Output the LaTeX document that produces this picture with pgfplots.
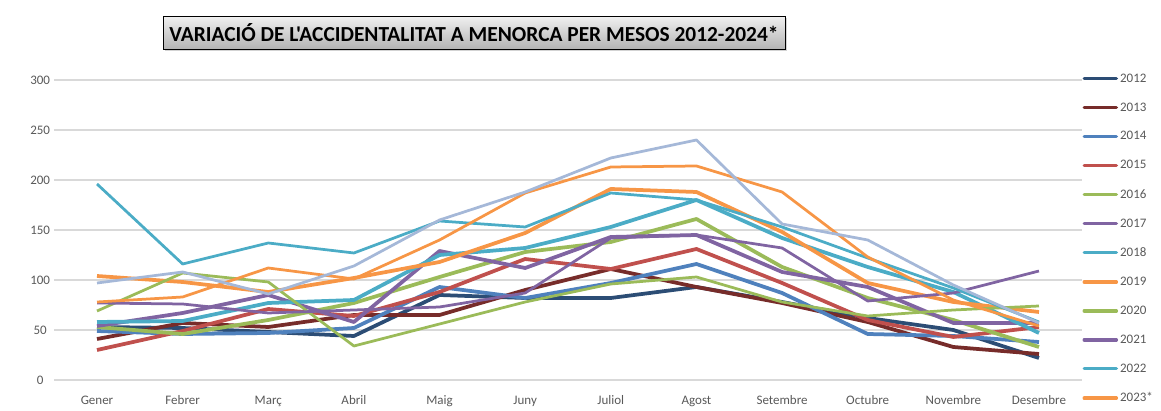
\documentclass[border=0pt]{standalone}
\usepackage{fontspec}
\setmainfont{Carlito}
\newfontfamily\titlefont{Carlito}[Ligatures=TeXOff]
\usepackage{pgfplots}
\pgfplotsset{compat=1.18}
\usetikzlibrary{shadows}
\definecolor{c2012}{HTML}{2C4D75}
\definecolor{c2013}{HTML}{772C2A}
\definecolor{c2014}{HTML}{4F81BD}
\definecolor{c2015}{HTML}{C0504D}
\definecolor{c2016}{HTML}{9BBB59}
\definecolor{c2017}{HTML}{8064A2}
\definecolor{c2018}{HTML}{4BACC6}
\definecolor{c2019}{HTML}{F79646}
\definecolor{c2024}{HTML}{A5B8D8}
\definecolor{gridgray}{HTML}{D9D9D9}
\definecolor{labelgray}{HTML}{595959}
\begin{document}
\begin{tikzpicture}[x=1pt,y=1pt]
\path[use as bounding box] (-54.2,-31) rectangle (1106.8,380);
\begin{axis}[
  at={(0,0)}, anchor=south west,
  scale only axis, width=1027.6pt, height=300pt,
  xmin=-0.5, xmax=11.5, ymin=0, ymax=300,
  xtick={0,...,11},
  xticklabels={Gener,Febrer,Març,Abril,Maig,Juny,Juliol,Agost,Setembre,Octubre,Novembre,Desembre},
  ytick={0,50,...,300},
  ymajorgrids, grid style={line width=1.2pt, color=gridgray},
  axis line style={draw=none},
  major tick length=0pt,
  tick label style={font=\fontsize{13}{15}\selectfont, text=labelgray},
  /pgf/number format/assume math mode=true,
  xticklabel style={anchor=base, yshift=-25pt},
  yticklabel style={anchor=center, xshift=-14pt},
  legend style={at={(1.0005,1.0217)}, anchor=north west, draw=none, fill=none,
    inner sep=0pt, row sep=19pt, column sep=2pt,
    nodes={inner sep=0pt, font=\fontsize{13}{15}\selectfont, text=labelgray}},
  legend cell align=left,
  legend image code/.code={\draw[#1, line width=3.3pt, line cap=round] (1.75pt,0pt) -- (34pt,0pt);},
  every axis plot/.append style={line join=round},
]
\addplot[c2012, line width=3.75pt] coordinates {(0,53)(1,52)(2,48)(3,44)(4,85)(5,82)(6,82)(7,93)(8,78)(9,62)(10,50)(11,22)};
\addlegendentry{2012}
\addplot[c2013, line width=3.75pt] coordinates {(0,41)(1,57)(2,53)(3,65)(4,65)(5,90)(6,111)(7,93)(8,77)(9,58)(10,33)(11,26)};
\addlegendentry{2013}
\addplot[c2014, line width=3.75pt] coordinates {(0,49)(1,46)(2,47)(3,52)(4,93)(5,82)(6,97)(7,116)(8,87)(9,46)(10,44)(11,38)};
\addlegendentry{2014}
\addplot[c2015, line width=3.75pt] coordinates {(0,30)(1,49)(2,71)(3,64)(4,88)(5,121)(6,111)(7,131)(8,97)(9,60)(10,43)(11,53)};
\addlegendentry{2015}
\addplot[c2016, line width=3.75pt] coordinates {(0,53)(1,46)(2,60)(3,77)(4,103)(5,128)(6,138)(7,161)(8,113)(9,82)(10,60)(11,33)};
\addlegendentry{2016}
\addplot[c2017, line width=3.75pt] coordinates {(0,54)(1,67)(2,85)(3,58)(4,129)(5,112)(6,143)(7,145)(8,108)(9,93)(10,57)(11,57)};
\addlegendentry{2017}
\addplot[c2018, line width=3.75pt] coordinates {(0,58)(1,59)(2,77)(3,80)(4,125)(5,132)(6,153)(7,180)(8,142)(9,113)(10,88)(11,47)};
\addlegendentry{2018}
\addplot[c2019, line width=3.75pt] coordinates {(0,104)(1,98)(2,88)(3,102)(4,118)(5,147)(6,191)(7,188)(8,148)(9,97)(10,78)(11,68)};
\addlegendentry{2019}
\addplot[c2016, line width=2.75pt] coordinates {(0,69)(1,107)(2,98)(3,34)(4,56)(5,78)(6,96)(7,103)(8,78)(9,64)(10,70)(11,74)};
\addlegendentry{2020}
\addplot[c2017, line width=2.75pt] coordinates {(0,77)(1,76)(2,67)(3,70)(4,73)(5,87)(6,142)(7,145)(8,132)(9,79)(10,87)(11,109)};
\addlegendentry{2021}
\addplot[c2018, line width=2.75pt] coordinates {(0,196)(1,116)(2,137)(3,127)(4,159)(5,153)(6,187)(7,180)(8,153)(9,122)(10,92)(11,58)};
\addlegendentry{2022}
\addplot[c2019, line width=2.75pt] coordinates {(0,78)(1,83)(2,112)(3,101)(4,140)(5,187)(6,213)(7,214)(8,188)(9,123)(10,80)(11,54)};
\addlegendentry{2023*}
\addplot[c2024, line width=2.75pt, forget plot] coordinates {(0,97)(1,108)(2,86)(3,114)(4,160)(5,188)(6,222)(7,240)(8,156)(9,140)(10,95)(11,57)};
\end{axis}
\node[draw=black, line width=1pt, top color=white!94!black, bottom color=white!70!black,
  minimum width=622pt, minimum height=33pt, inner sep=0pt,
  drop shadow={opacity=0.35, shadow xshift=2pt, shadow yshift=-2pt},
  font=\titlefont\fontsize{21.4}{23}\selectfont\bfseries]
  at (419.8,347) {VARIACIÓ DE L'ACCIDENTALITAT A MENORCA PER MESOS 2012-2024*};
\end{tikzpicture}
\end{document}
